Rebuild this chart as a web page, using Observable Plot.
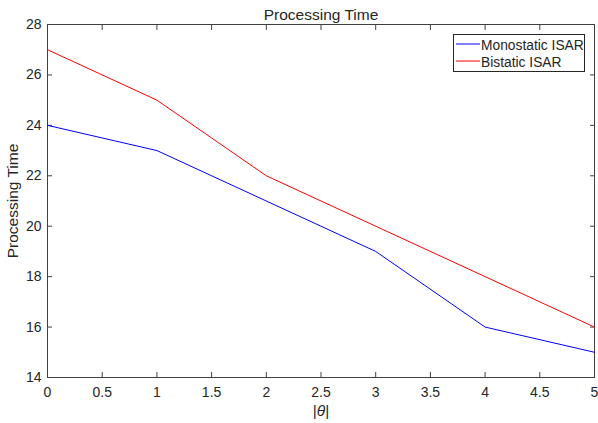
<!DOCTYPE html>
<html>
<head>
<meta charset="utf-8">
<script src="https://cdn.jsdelivr.net/npm/d3@7"></script>
<script src="https://cdn.jsdelivr.net/npm/@observablehq/plot@0.6"></script>
<style>
  html, body { margin: 0; padding: 0; background: #fff; }
  #wrap { position: relative; width: 598px; height: 423px; }
</style>
</head>
<body>
<div id="wrap"></div>
<script>
const theta = [0, 1, 2, 3, 4, 5];
const monostatic = [24, 23, 21, 19, 16, 15];
const bistatic = [27, 25, 22, 20, 18, 16];
const seriesNames = ["Monostatic ISAR", "Bistatic ISAR"];
const seriesColors = ["#0000ff", "#ff0000"];
const xTicks = [0, 0.5, 1, 1.5, 2, 2.5, 3, 3.5, 4, 4.5, 5];
const yTicks = [14, 16, 18, 20, 22, 24, 26, 28];
const titleText = "Processing Time";
const yLabel = "Processing Time";
const xLabel = "|θ|";

const rows = [];
theta.forEach((t, i) => {
  rows.push({theta: t, value: monostatic[i], series: seriesNames[0]});
  rows.push({theta: t, value: bistatic[i], series: seriesNames[1]});
});

const axisColor = "#404040";
const textColor = "#262626";
const fmt = d => String(d);

const chart = Plot.plot({
  width: 598,
  height: 423,
  marginLeft: 47,
  marginRight: 4,
  marginTop: 24,
  marginBottom: 46,
  style: {fontFamily: "'Liberation Sans', Arial, sans-serif", fontSize: "14px", color: textColor, background: "#fff"},
  x: {domain: [0, 5]},
  y: {domain: [14, 28]},
  color: {domain: seriesNames, range: seriesColors},
  marks: [
    Plot.frame({stroke: axisColor, strokeWidth: 1}),
    Plot.axisX({ticks: xTicks, tickSize: 0, tickPadding: 10, tickFormat: fmt, fill: textColor,
      label: xLabel, labelAnchor: "center", labelOffset: 38, labelArrow: "none", fontSize: 14}),
    Plot.axisX({ticks: xTicks, tickSize: -5, text: null, label: null, stroke: axisColor}),
    Plot.axisX({anchor: "top", ticks: xTicks, tickSize: -5, text: null, label: null, stroke: axisColor}),
    Plot.axisY({ticks: yTicks, tickSize: 0, tickPadding: 6, tickFormat: fmt, fill: textColor,
      label: yLabel, labelAnchor: "center", labelOffset: 41, labelArrow: "none", fontSize: 14}),
    Plot.axisY({ticks: yTicks, tickSize: -5, text: null, label: null, stroke: axisColor}),
    Plot.axisY({anchor: "right", ticks: yTicks, tickSize: -5, text: null, label: null, stroke: axisColor}),
    Plot.line(rows, {x: "theta", y: "value", z: "series", stroke: "series", strokeWidth: 1}),
    Plot.text([titleText], {text: d => d, frameAnchor: "top", lineAnchor: "bottom", dy: -5, fontSize: 15.5, fill: textColor})
  ]
});

document.getElementById("wrap").appendChild(chart);

// make θ italic in x label, make axis labels larger
d3.select(chart).selectAll("text").each(function() {
  const t = this.textContent;
  if (t === xLabel) {
    const el = d3.select(this);
    el.text("");
    el.append("tspan").text("|");
    el.append("tspan").attr("font-style", "italic").text("θ");
    el.append("tspan").text("|");
    el.attr("font-size", "15.5px");
  } else if (t === yLabel && this.closest("[aria-label='y-axis label']")) {
    d3.select(this).attr("font-size", "15.5px");
  }
});

// legend drawn inside the SVG (upper-right of the frame, like MATLAB's "northeast")
const svg = d3.select(chart);
const fx = 598 - 4;   // frame right
const fy = 24;        // frame top
const lw = 131, lh = 37;
const lg = svg.append("g").attr("transform", `translate(${fx - 10 - lw},${fy + 10})`);
lg.append("rect").attr("x", 0.5).attr("y", 0.5).attr("width", lw).attr("height", lh)
  .attr("fill", "#fff").attr("stroke", textColor).attr("stroke-width", 1);
seriesNames.forEach((n, i) => {
  const cy = 10 + i * 17;
  lg.append("line").attr("x1", 3).attr("x2", 27).attr("y1", cy).attr("y2", cy)
    .attr("stroke", seriesColors[i]).attr("stroke-width", 1);
  lg.append("text").attr("x", 28).attr("y", cy + 1).attr("dy", "0.35em")
    .attr("text-anchor", "start")
    .attr("font-size", "13.8px").attr("fill", textColor).text(n);
});
</script>
</body>
</html>
